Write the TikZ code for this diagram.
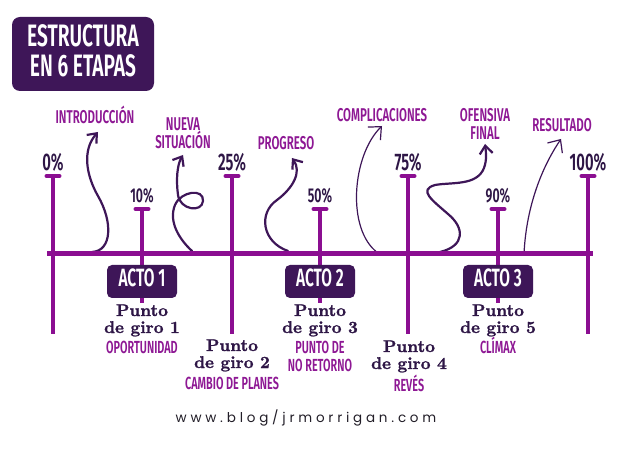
\documentclass[tikz,border=0pt]{standalone}
\usepackage{fontspec}
\newfontfamily\cond{Fira Sans SemiBold}[FakeStretch=0.62]
\newfontfamily\punt{lmroman10-bold}[Extension=.otf,FakeBold=1.3]
\newfontfamily\urlf[LetterSpace=28]{Poppins}
\usetikzlibrary{arrows.meta}
\definecolor{lp}{RGB}{139,14,145}
\definecolor{lab}{RGB}{142,24,148}
\definecolor{dp}{RGB}{62,22,88}
\definecolor{dtext}{RGB}{46,22,70}
\begin{document}
\begin{tikzpicture}[x=1pt,y=-1pt,
  tl/.style={line width=4pt,draw=lp},
  tbar/.style={line width=4pt,draw=lp,line cap=round},
  mainline/.style={line width=5pt,draw=lp},
  pct/.style={anchor=base,inner sep=0pt,text=dtext,font=\cond\fontsize{24}{24}\selectfont},
  pcts/.style={pct,font=\cond\fontsize{20}{20}\selectfont},
  lbl/.style={anchor=base,inner sep=0pt,text=lab,font=\cond\fontsize{18.5}{18}\selectfont},
  lbls/.style={lbl,font=\cond\fontsize{17.5}{17}\selectfont},
  punto/.style={anchor=base,inner sep=0pt,text=dtext,font=\punt\fontsize{17}{17}\selectfont},
  titletxt/.style={anchor=base,inner sep=0pt,text=white,font=\cond\fontsize{31}{30}\selectfont},
  acto/.style={fill=dp,rounded corners=5pt,minimum width=70pt,minimum height=33pt,inner sep=0pt,
    text=white,text height=17pt,text depth=6pt,font=\cond\fontsize{25}{24}\selectfont},
  arrthick/.style={draw=dp,line width=2.2pt,line cap=round,-{Straight Barb[length=8pt,width=13pt]}},
  arrthin/.style={draw=dp,line width=1.2pt,line cap=round,-{Straight Barb[length=10pt,width=18pt]}}
]
\useasboundingbox[fill=white] (0,0) rectangle (640,454);

% title
\node[fill=dp,rounded corners=8pt,minimum width=142pt,minimum height=74pt,inner sep=0pt] (tbox) at (83,54) {};
\node[titletxt] (t1) at (83,47) {ESTRUCTURA};
\node[titletxt] (t2) at (83,77) {EN 6 ETAPAS};

% top labels
\node[lbl] (intro) at (95,124) {INTRODUCCIÓN};
\node[lbl] (nueva1) at (183,131) {NUEVA};
\node[lbl] (nueva2) at (183,149) {SITUACIÓN};
\node[lbl] (progreso) at (286,150) {PROGRESO};
\node[lbl] (compl) at (382,122) {COMPLICACIONES};
\node[lbl] (ofen1) at (485,122) {OFENSIVA};
\node[lbl] (ofen2) at (485,140) {FINAL};
\node[lbl] (result) at (562,132) {RESULTADO};

% percentages
\node[pct] (p0) at (53,171) {0\%};
\node[pcts] (p10) at (142,203) {10\%};
\node[pct] (p25) at (232,171) {25\%};
\node[pcts] (p50) at (320,203) {50\%};
\node[pct] (p75) at (408,171) {75\%};
\node[pcts] (p90) at (498,203) {90\%};
\node[pct] (p100) at (588,171) {100\%};

% curved arrows
\coordinate (s1) at (92,252);  \coordinate (e1) at (98,132);
\coordinate (s2) at (192,251); \coordinate (e2) at (183,155);
\coordinate (s3) at (288,251); \coordinate (e3) at (292,158);
\coordinate (s4) at (378,253); \coordinate (e4) at (382,126);
\coordinate (s5) at (440,252); \coordinate (e5) at (485,144);
\coordinate (s6) at (524,254); \coordinate (e6) at (561,139);

\draw[arrthick] (s1) .. controls (112,251) and (113,222) .. (98,196)
  .. controls (86,175) and (82,150) .. (e1);
\draw[arrthick] (s2) .. controls (180,240) and (168,222) .. (175,205)
  .. controls (181,191) and (204,188) .. (203,201)
  .. controls (202,213) and (180,210) .. (178,195)
  .. controls (176,180) and (177,165) .. (e2);
\draw[arrthick] (s3) .. controls (262,242) and (258,213) .. (277,200)
  .. controls (293,188) and (302,172) .. (e3);
\draw[arrthin] (s4) .. controls (346,230) and (352,155) .. (e4);
\draw[arrthick] (s5) .. controls (465,246) and (465,228) .. (448,214)
  .. controls (432,200) and (418,190) .. (435,185)
  .. controls (452,182) and (477,186) .. (484,168)
  .. controls (487,160) and (486,152) .. (e5);
\draw[arrthin] (s6) .. controls (526,210) and (540,170) .. (e6);

% ticks
\foreach \x/\n in {53/0,232/25,408/75,588/100}{
  \coordinate (top\n) at (\x,176);
  \coordinate (bot\n) at (\x,334);
  \draw[tl] (top\n) -- (bot\n);
  \draw[tbar] (\x-6.5,176) -- (\x+6.5,176);
}
\foreach \x/\n in {142/10,320/50,498/90}{
  \coordinate (top\n) at (\x,209);
  \coordinate (bot\n) at (\x,303);
  \draw[tl] (top\n) -- (bot\n);
  \draw[tbar] (\x-6.5,209) -- (\x+6.5,209);
}

% main line
\coordinate (L) at (47,254);
\coordinate (R) at (593,254);
\draw[mainline] (L) -- (R);

% acts
\node[acto] (acto1) at (142,281.5) {ACTO 1};
\node[acto] (acto2) at (320,281.5) {ACTO 2};
\node[acto] (acto3) at (498,281.5) {ACTO 3};

% turning points
\node[punto] (pg1a) at (142,316) {Punto};
\node[punto] (pg1b) at (142,333) {de giro 1};
\node[lbls] (pg1c) at (142,353) {OPORTUNIDAD};

\node[punto] (pg2a) at (232,351) {Punto};
\node[punto] (pg2b) at (232,368) {de giro 2};
\node[lbls] (pg2c) at (232,389) {CAMBIO DE PLANES};

\node[punto] (pg3a) at (320,316) {Punto};
\node[punto] (pg3b) at (320,333) {de giro 3};
\node[lbls] (pg3c) at (320,353) {PUNTO DE};
\node[lbls] (pg3d) at (320,371) {NO RETORNO};

\node[punto] (pg4a) at (409,352) {Punto};
\node[punto] (pg4b) at (409,369) {de giro 4};
\node[lbls] (pg4c) at (409,391) {REVÉS};

\node[punto] (pg5a) at (498,316) {Punto};
\node[punto] (pg5b) at (498,333) {de giro 5};
\node[lbls] (pg5c) at (498,353) {CLÍMAX};

% url
\node[anchor=base,inner sep=0pt,text={rgb,255:red,34;green,30;blue,40},font=\urlf\fontsize{13.5}{14}\selectfont] (url) at (306,422) {www.blog/jrmorrigan.com};
\end{tikzpicture}
\end{document}
